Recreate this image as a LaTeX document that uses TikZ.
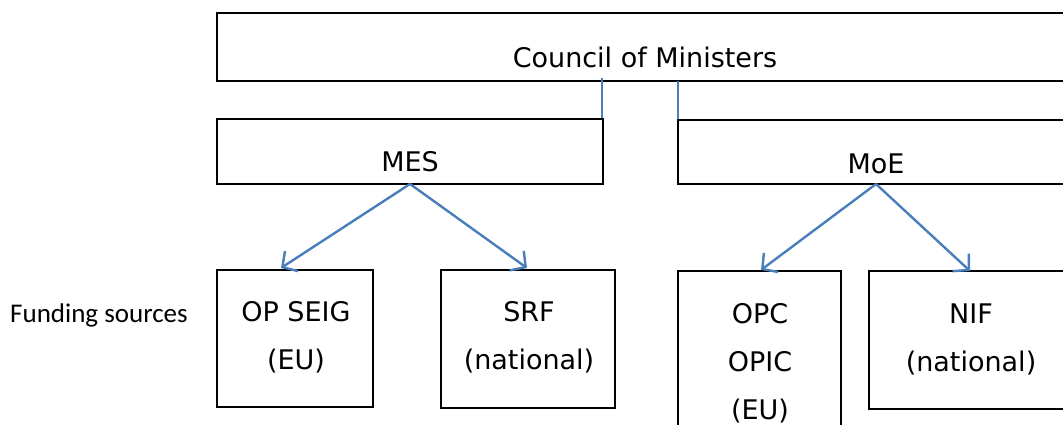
\documentclass[tikz,border=0pt]{standalone}
\usepackage{fontspec}
\setmainfont{DejaVu Sans}
\newfontfamily\calibri{Carlito}
\usetikzlibrary{arrows.meta}
\definecolor{linkblue}{HTML}{4A7EBB}
\tikzset{
  box/.style={draw=black, line width=1.8pt, rectangle, inner sep=0pt},
  lbl/.style={font=\fontsize{27}{48}\selectfont, align=center, inner sep=0pt},
  link/.style={draw=linkblue, line width=2.4pt},
  flow/.style={draw=linkblue, line width=2.4pt, -{Straight Barb[length=11pt,width=24pt,line width=2.4pt]}}
}
\begin{document}
\begin{tikzpicture}[x=1pt,y=-1pt]
  \useasboundingbox (0,0) rectangle (1063,425);
  \clip (0,0) rectangle (1063,425);

  % governing bodies
  \node[box, minimum width=870pt, minimum height=68pt] (council) at (652,47) {};
  \node[lbl] (councilT) at (645,57) {Council of Ministers};

  \node[box, minimum width=386pt, minimum height=65pt] (mes) at (410,151.5) {};
  \node[lbl] (mesT) at (410,162) {MES};

  \node[box, minimum width=400pt, minimum height=64pt] (moe) at (878,152) {};
  \node[lbl] (moeT) at (876,164) {MoE};

  % links from the council
  \coordinate (c1) at (602,78);
  \coordinate (m1) at (602,118);
  \coordinate (c2) at (678,81);
  \coordinate (m2) at (678,119);
  \draw[link] (c1) -- (m1);
  \draw[link] (c2) -- (m2);

  % funding sources
  \node[font=\calibri\fontsize{27}{30}\selectfont, anchor=west, inner sep=0pt] (fund) at (10,315) {Funding sources};

  \node[box, minimum width=156pt, minimum height=137pt] (opseig) at (295,338.5) {};
  \node[lbl] (opseigT) at (296,337.5) {OP SEIG\\(EU)};

  \node[box, minimum width=174pt, minimum height=138pt] (srf) at (528,339) {};
  \node[lbl] (srfT) at (529,337.5) {SRF\\(national)};

  \node[box, minimum width=163pt, minimum height=180pt] (opc) at (759.5,361) {};
  \node[lbl] (opcT) at (760,363.5) {OPC\\OPIC\\(EU)};

  \node[box, minimum width=210pt, minimum height=138pt] (nif) at (974,340) {};
  \node[lbl] (nifT) at (971,339.5) {NIF\\(national)};

  % allocation arrows
  \coordinate (mesB) at (410,184);
  \coordinate (moeB) at (876,184);
  \draw[flow] (mesB) -- (281,268);
  \draw[flow] (mesB) -- (527,268);
  \draw[flow] (moeB) -- (761,270);
  \draw[flow] (moeB) -- (970,271);
\end{tikzpicture}
\end{document}
